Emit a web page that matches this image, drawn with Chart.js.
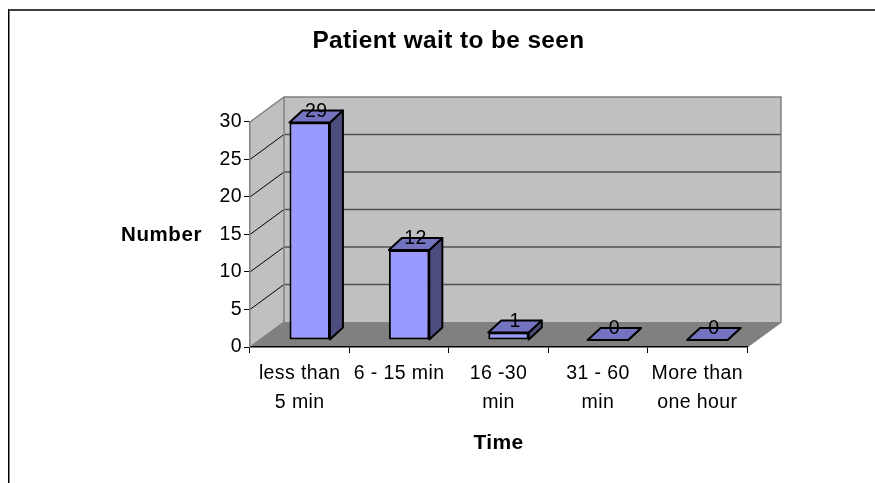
<!DOCTYPE html>
<html>
<head>
<meta charset="utf-8">
<title>Patient wait to be seen</title>
<script src="https://cdn.jsdelivr.net/npm/chart.js@4/dist/chart.umd.min.js"></script>
<style>
    body { margin: 0; background: #fff; }
    canvas { display: block; }
</style>
</head>
<body>
<canvas id="waitChart" width="875" height="483"></canvas>
<script>
const categories = [['less than', '5 min'], '6 - 15 min', ['16 -30', 'min'], ['31 - 60', 'min'], ['More than', 'one hour']];
const patients = [29, 12, 1, 0, 0];
const yTicks = [0, 5, 10, 15, 20, 25, 30];

const chartTitle = 'Patient wait to be seen';
const xTitle = 'Time';
const yTitle = 'Number';

const FONT = '"Liberation Sans", Arial, sans-serif';

// how far the back wall sits behind the front plane
const wallDepth = { x: 34, y: 25 };
// bars stand part way into the floor and have their own depth
const barShift = { x: 10, y: -7 };
const barDepth = { x: 13, y: 12 };

function polygon(ctx, points, fill, stroke, lineWidth) {
    ctx.beginPath();
    points.forEach((p, i) => i ? ctx.lineTo(p[0], p[1]) : ctx.moveTo(p[0], p[1]));
    ctx.closePath();
    ctx.fillStyle = fill;
    ctx.fill();
    if (stroke) {
        ctx.strokeStyle = stroke;
        ctx.lineWidth = lineWidth;
        ctx.lineJoin = 'round';
        ctx.stroke();
    }
}

const fake3d = {
    id: 'fake3d',
    // page frame, walls, floor and grid go under everything
    beforeDraw(chart) {
        const { ctx, chartArea: a, scales } = chart;
        const dx = wallDepth.x, dy = wallDepth.y;
        // the original text runs a little wide, this carries into ticks and titles
        ctx.letterSpacing = '0.4px';
        ctx.save();

        // only the top and left of the frame are inside the picture
        ctx.fillStyle = '#404040';
        ctx.fillRect(8, 9, chart.width - 8, 2);
        ctx.fillStyle = '#000';
        ctx.fillRect(8, 9, 1, chart.height - 9);
        ctx.fillStyle = '#808080';
        ctx.fillRect(9, 11, 1, chart.height - 11);

        polygon(ctx, [[a.left, a.top], [a.left + dx, a.top - dy], [a.left + dx, a.bottom - dy], [a.left, a.bottom]], '#C0C0C0');
        polygon(ctx, [[a.left + dx, a.top - dy], [a.right + dx, a.top - dy], [a.right + dx, a.bottom - dy], [a.left + dx, a.bottom - dy]], '#C0C0C0');
        polygon(ctx, [[a.left, a.bottom], [a.left + dx, a.bottom - dy], [a.right + dx, a.bottom - dy], [a.right, a.bottom]], '#808080');

        yTicks.forEach(v => {
            const y = scales.y.getPixelForValue(v);
            if (v > 0 && v < 30) {
                ctx.beginPath();
                ctx.moveTo(a.left, y);
                ctx.lineTo(a.left + dx, y - dy);
                ctx.strokeStyle = '#000';
                ctx.lineWidth = 1;
                ctx.stroke();
                ctx.beginPath();
                ctx.moveTo(a.left + dx, y - dy);
                ctx.lineTo(a.right + dx, y - dy);
                ctx.strokeStyle = '#505050';
                ctx.lineWidth = 1.5;
                ctx.stroke();
            }
        });

        // grey edges of the box
        ctx.strokeStyle = '#808080';
        ctx.lineWidth = 1.5;
        ctx.beginPath();
        ctx.moveTo(a.left, a.top);
        ctx.lineTo(a.left + dx, a.top - dy);
        ctx.lineTo(a.right + dx, a.top - dy);
        ctx.lineTo(a.right + dx, a.bottom - dy);
        ctx.lineTo(a.right, a.bottom);
        ctx.moveTo(a.left + dx, a.top - dy);
        ctx.lineTo(a.left + dx, a.bottom - dy);
        ctx.moveTo(a.left, a.bottom);
        ctx.lineTo(a.left + dx, a.bottom - dy);
        ctx.stroke();
        ctx.restore();
    },
    // side and top faces, then the library draws the front face on top
    beforeDatasetDraw(chart, args) {
        const { ctx } = chart;
        ctx.save();
        ctx.translate(barShift.x, barShift.y);
        chart.getDatasetMeta(args.index).data.forEach(bar => {
            const l = bar.x - bar.width / 2, r = bar.x + bar.width / 2;
            const top = bar.y, base = bar.base;
            const dx = barDepth.x, dy = barDepth.y;
            polygon(ctx, [[r, top], [r + dx, top - dy], [r + dx, base - dy], [r, base]], '#4D4D80', '#000', 2);
            polygon(ctx, [[l, top], [l + dx, top - dy], [r + dx, top - dy], [r, top]], '#7373BF', '#000', 2);
        });
    },
    afterDatasetDraw(chart) {
        chart.ctx.restore();
    },
    afterDatasetsDraw(chart) {
        const { ctx } = chart;
        ctx.save();
        ctx.fillStyle = '#000';
        ctx.textAlign = 'center';
        ctx.textBaseline = 'middle';
        ctx.font = '19.5px ' + FONT;
        chart.getDatasetMeta(0).data.forEach((bar, i) => {
            ctx.fillText(patients[i], bar.x + barShift.x + barDepth.x / 2, bar.y + barShift.y - barDepth.y + 1);
        });
        // horizontal axis name, the scale title can only be rotated here
        ctx.letterSpacing = '0.6px';
        ctx.font = 'bold 20.5px ' + FONT;
        ctx.fillText(yTitle, 161.5, 235);
        ctx.restore();
    }
};

new Chart(document.getElementById('waitChart').getContext('2d'), {
    type: 'bar',
    data: {
        labels: categories,
        datasets: [{
            label: 'Number',
            data: patients,
            backgroundColor: '#9999FF',
            borderColor: '#000',
            borderWidth: 2,
            borderSkipped: false,
            barPercentage: 0.407,
            categoryPercentage: 1
        }]
    },
    options: {
        responsive: false,
        animation: false,
        layout: {
            padding: { left: 150, right: 128, top: 0, bottom: 0 }
        },
        plugins: {
            legend: { display: false },
            tooltip: { enabled: false },
            title: {
                display: true,
                text: chartTitle,
                color: '#000',
                font: { family: FONT, size: 24.4, weight: 'bold', lineHeight: 1.2 },
                padding: { top: 26.2, bottom: 66.5 }
            }
        },
        scales: {
            x: {
                afterFit(scale) { scale.height = 136; },
                grid: { drawOnChartArea: false, tickLength: 6, color: '#000' },
                border: { color: '#000', width: 1.5 },
                ticks: {
                    color: '#000',
                    padding: 6,
                    maxRotation: 0,
                    autoSkip: false,
                    font: { family: FONT, size: 19.5, lineHeight: 1.49 }
                },
                title: {
                    display: true,
                    text: xTitle,
                    color: '#000',
                    font: { family: FONT, size: 21, weight: 'bold' },
                    padding: { top: 0, bottom: 27 }
                }
            },
            y: {
                min: 0,
                max: 30,
                afterFit(scale) { scale.width = 100; },
                afterBuildTicks(scale) { scale.ticks = yTicks.map(v => ({ value: v })); },
                grid: { drawOnChartArea: false, tickLength: 6, color: '#000' },
                border: { color: '#808080', width: 1.5 },
                ticks: {
                    color: '#000',
                    padding: 2,
                    font: { family: FONT, size: 19.5 }
                }
            }
        }
    },
    plugins: [fake3d]
});
</script>
</body>
</html>
